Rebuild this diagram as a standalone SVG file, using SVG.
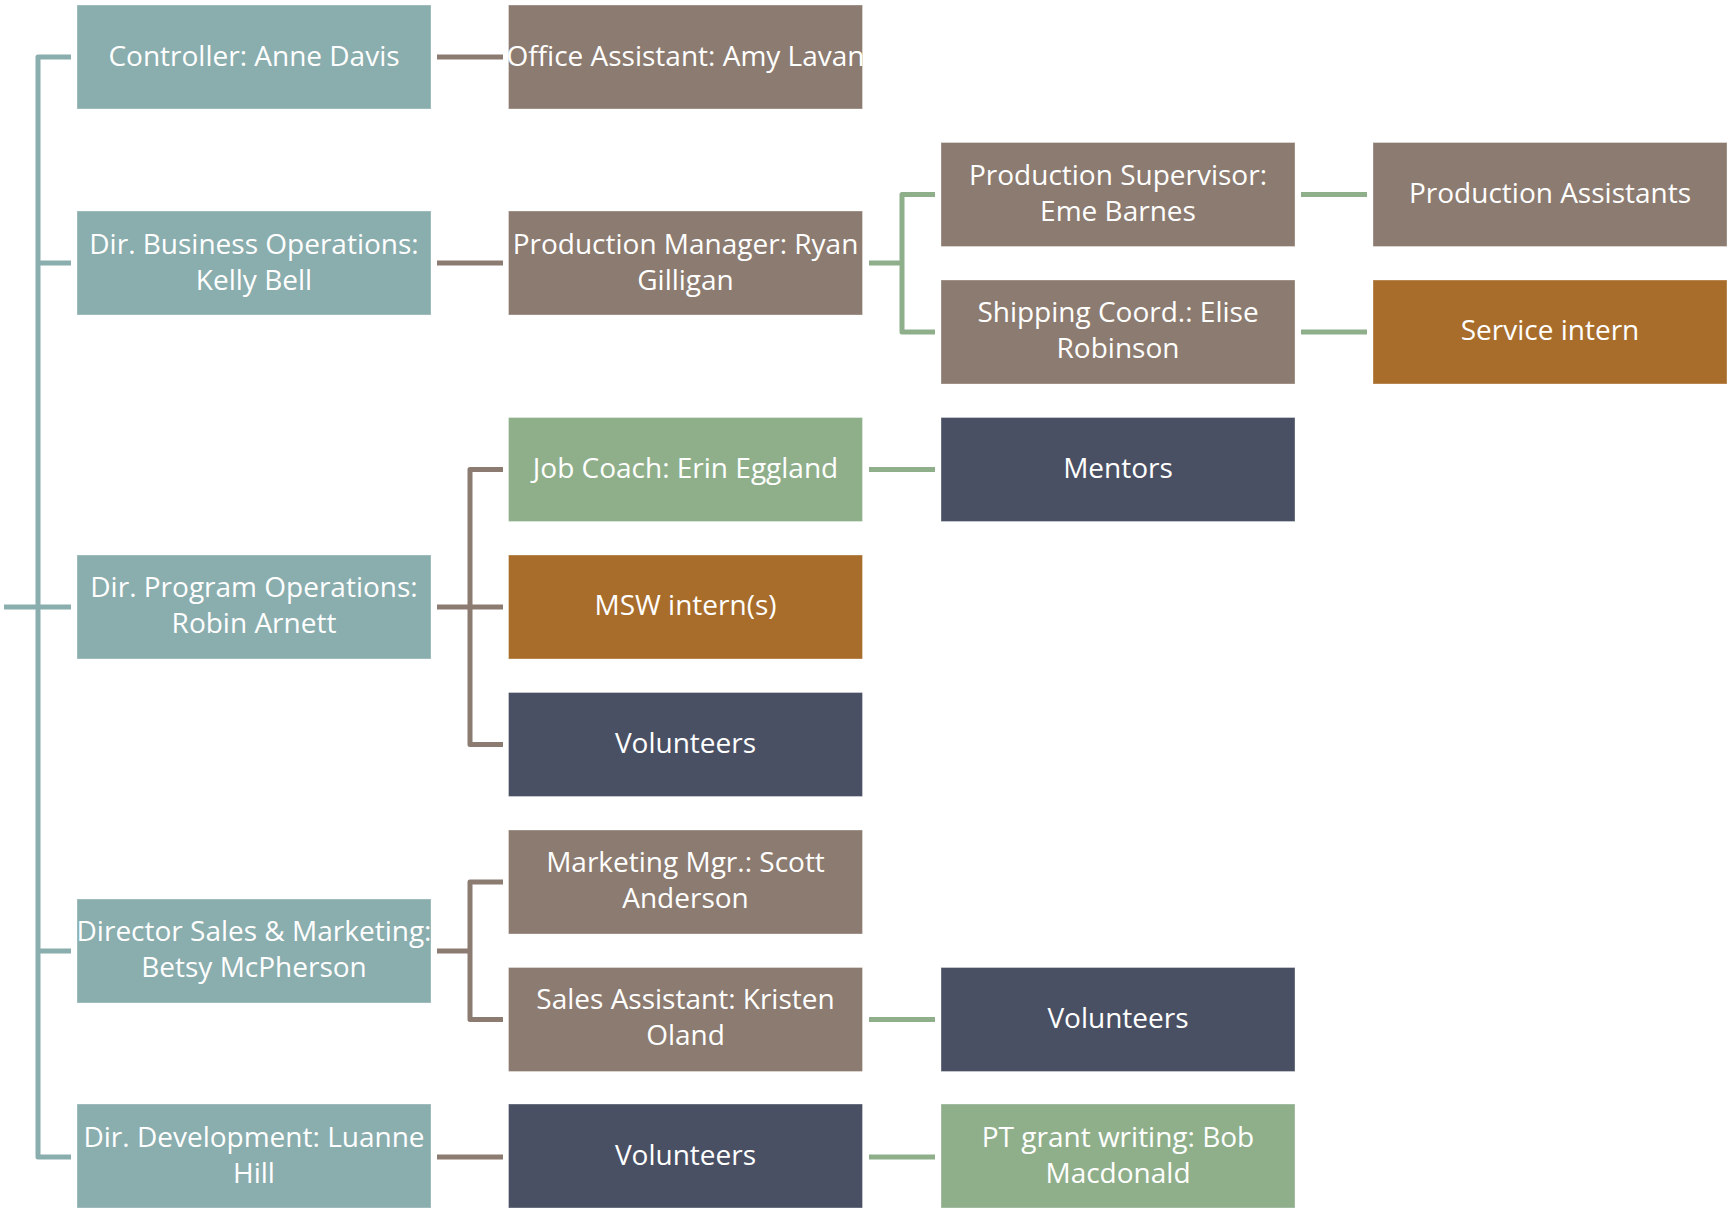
<svg xmlns="http://www.w3.org/2000/svg" width="1729" height="1208" viewBox="0 0 1729 1208">
<style>
.n rect{stroke:#ffffff;stroke-opacity:0.35;stroke-width:1}
.teal{fill:#8AADAE}
.brown{fill:#8C7B70}
.orange{fill:#A86D2B}
.slate{fill:#4A5064}
.green{fill:#8FAF8B}
.n text{font-family:"Open Sans","Noto Sans",sans-serif;font-size:28px;fill:#ffffff;text-anchor:middle}
.c path{fill:none;stroke-width:5;stroke-linejoin:round}
.ct{stroke:#8AADAE}
.cb{stroke:#8C7B70}
.cg{stroke:#8FAF8B}
</style>
<rect width="1729" height="1208" fill="#ffffff"/>
<g id="connectors" class="c">
<path class="ct" d="M4,607 H38 M71,57 H38 V1157 H71 M38,263 H71 M38,607 H71 M38,951 H71"/>
<path class="cb" d="M437,57 H503"/>
<path class="cb" d="M437,263 H503"/>
<path class="cb" d="M437,607 H470 M503,469.5 H470 V744.5 H503 M470,607 H503"/>
<path class="cb" d="M437,951 H470 M503,882 H470 V1019.5 H503"/>
<path class="cb" d="M437,1157 H503"/>
<path class="cg" d="M869,263 H902 M935,194.5 H902 V332 H935"/>
<path class="cg" d="M869,469.5 H935"/>
<path class="cg" d="M869,1019.5 H935"/>
<path class="cg" d="M869,1157 H935"/>
<path class="cg" d="M1301,194.5 H1367"/>
<path class="cg" d="M1301,332 H1367"/>
</g>
<g id="controller" class="n"><rect class="teal" x="77" y="5" width="354" height="104"/><text x="254" y="66">Controller: Anne Davis</text></g>
<g id="dir-business" class="n"><rect class="teal" x="77" y="211" width="354" height="104"/><text x="254" y="254">Dir. Business Operations:</text><text x="254" y="290">Kelly Bell</text></g>
<g id="dir-program" class="n"><rect class="teal" x="77" y="555" width="354" height="104"/><text x="254" y="597">Dir. Program Operations:</text><text x="254" y="633">Robin Arnett</text></g>
<g id="dir-sales" class="n"><rect class="teal" x="77" y="899" width="354" height="104"/><text x="254" y="941">Director Sales &amp; Marketing:</text><text x="254" y="977">Betsy McPherson</text></g>
<g id="dir-development" class="n"><rect class="teal" x="77" y="1104" width="354" height="104"/><text x="254" y="1147">Dir. Development: Luanne</text><text x="254" y="1183">Hill</text></g>

<g id="office-assistant" class="n"><rect class="brown" x="508.5" y="5" width="354" height="104"/><text x="685.5" y="66">Office Assistant: Amy Lavan</text></g>
<g id="production-manager" class="n"><rect class="brown" x="508.5" y="211" width="354" height="104"/><text x="685.5" y="254">Production Manager: Ryan</text><text x="685.5" y="290">Gilligan</text></g>
<g id="job-coach" class="n"><rect class="green" x="508.5" y="417.5" width="354" height="104"/><text x="685.5" y="478">Job Coach: Erin Eggland</text></g>
<g id="msw-interns" class="n"><rect class="orange" x="508.5" y="555" width="354" height="104"/><text x="685.5" y="615">MSW intern(s)</text></g>
<g id="volunteers-program" class="n"><rect class="slate" x="508.5" y="692.5" width="354" height="104"/><text x="685.5" y="753">Volunteers</text></g>
<g id="marketing-mgr" class="n"><rect class="brown" x="508.5" y="830" width="354" height="104"/><text x="685.5" y="872">Marketing Mgr.: Scott</text><text x="685.5" y="908">Anderson</text></g>
<g id="sales-assistant" class="n"><rect class="brown" x="508.5" y="967.5" width="354" height="104"/><text x="685.5" y="1009">Sales Assistant: Kristen</text><text x="685.5" y="1045">Oland</text></g>
<g id="volunteers-development" class="n"><rect class="slate" x="508.5" y="1104" width="354" height="104"/><text x="685.5" y="1165">Volunteers</text></g>

<g id="production-supervisor" class="n"><rect class="brown" x="941" y="142.5" width="354" height="104"/><text x="1118" y="185">Production Supervisor:</text><text x="1118" y="221">Eme Barnes</text></g>
<g id="shipping-coord" class="n"><rect class="brown" x="941" y="280" width="354" height="104"/><text x="1118" y="322">Shipping Coord.: Elise</text><text x="1118" y="358">Robinson</text></g>
<g id="mentors" class="n"><rect class="slate" x="941" y="417.5" width="354" height="104"/><text x="1118" y="478">Mentors</text></g>
<g id="volunteers-sales" class="n"><rect class="slate" x="941" y="967.5" width="354" height="104"/><text x="1118" y="1028">Volunteers</text></g>
<g id="pt-grant-writing" class="n"><rect class="green" x="941" y="1104" width="354" height="104"/><text x="1118" y="1147">PT grant writing: Bob</text><text x="1118" y="1183">Macdonald</text></g>

<g id="production-assistants" class="n"><rect class="brown" x="1373" y="142.5" width="354" height="104"/><text x="1550" y="203">Production Assistants</text></g>
<g id="service-intern" class="n"><rect class="orange" x="1373" y="280" width="354" height="104"/><text x="1550" y="340">Service intern</text></g>
</svg>
